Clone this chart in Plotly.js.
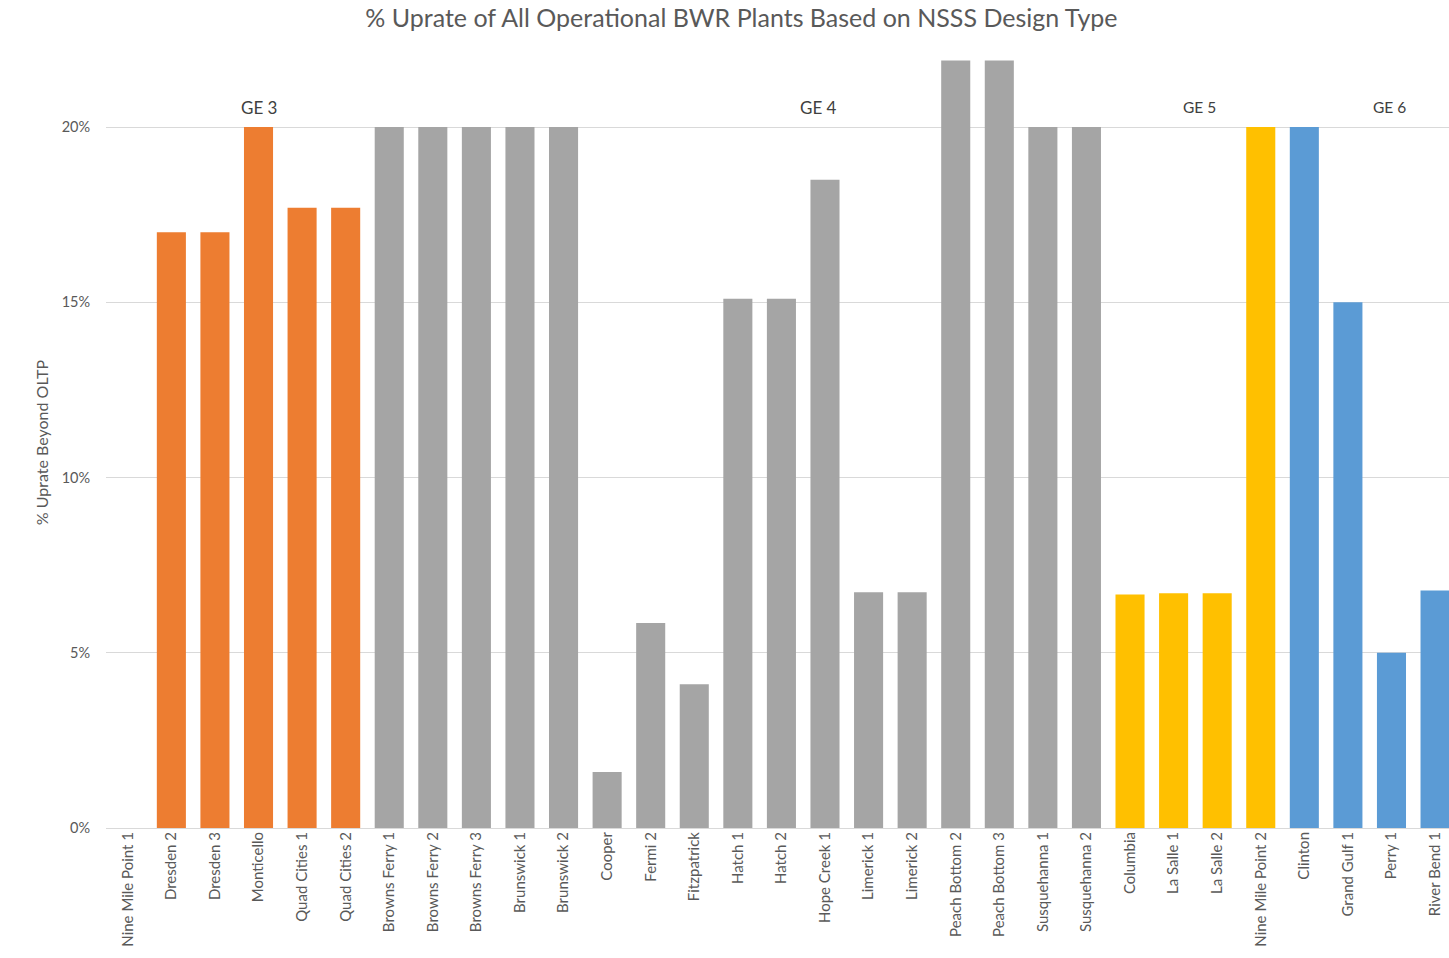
<!DOCTYPE html>
<html>
<head>
<meta charset="utf-8">
<script src="https://cdn.plot.ly/plotly-3.0.1.min.js"></script>
<style>html,body{margin:0;padding:0;background:#fff;}#chart{width:1449px;height:958px;}</style>
</head>
<body>
<div id="chart"></div>
<script>
const plants = ["Nine Mile Point 1","Dresden 2","Dresden 3","Monticello","Quad Cities 1","Quad Cities 2",
  "Browns Ferry 1","Browns Ferry 2","Browns Ferry 3","Brunswick 1","Brunswick 2","Cooper","Fermi 2",
  "Fitzpatrick","Hatch 1","Hatch 2","Hope Creek 1","Limerick 1","Limerick 2","Peach Bottom 2",
  "Peach Bottom 3","Susquehanna 1","Susquehanna 2","Columbia","La Salle 1","La Salle 2",
  "Nine Mile Point 2","Clinton","Grand Gulf 1","Perry 1","River Bend 1"];
const uprate = [0, 0.170, 0.170, 0.200, 0.177, 0.177,
  0.200, 0.200, 0.200, 0.200, 0.200, 0.016, 0.0585,
  0.041, 0.151, 0.151, 0.185, 0.0673, 0.0673, 0.219,
  0.219, 0.200, 0.200, 0.0666, 0.0670, 0.0670,
  0.200, 0.200, 0.150, 0.050, 0.0678];
const designType = ["GE 3","GE 3","GE 3","GE 3","GE 3","GE 3",
  "GE 4","GE 4","GE 4","GE 4","GE 4","GE 4","GE 4",
  "GE 4","GE 4","GE 4","GE 4","GE 4","GE 4","GE 4",
  "GE 4","GE 4","GE 4","GE 5","GE 5","GE 5",
  "GE 5","GE 6","GE 6","GE 6","GE 6"];
const groupLabels = ["GE 3","GE 4","GE 5","GE 6"];
const groupLabelX = [3, 15.84, 24.6, 28.96];
const groupColors = {"GE 3":"#ED7D31","GE 4":"#A5A5A5","GE 5":"#FFC000","GE 6":"#5B9BD5"};

const font = "Lato, 'Open Sans', sans-serif";
const trace = {
  type: "bar",
  x: plants,
  y: uprate,
  marker: {color: designType.map(g => groupColors[g])},
  hoverinfo: "x+y"
};
const annotations = groupLabels.map((g, i) => ({
  x: groupLabelX[i], y: 0.2056, xref: "x", yref: "y",
  text: g, showarrow: false,
  font: {family: font, size: i >= 2 ? 15.5 : 17, color: "#404040"}
}));
const layout = {
  width: 1449, height: 958,
  margin: {l: 106, r: 0, t: 57, b: 130},
  paper_bgcolor: "#fff", plot_bgcolor: "#fff",
  bargap: 0.333,
  showlegend: false,
  title: {text: "% Uprate of All Operational BWR Plants Based on NSSS Design Type",
    font: {family: font, size: 25, color: "#595959"},
    x: 0.5117, xref: "container", xanchor: "center", y: 0.981, yref: "container", yanchor: "middle"},
  xaxis: {
    type: "category",
    range: [-0.5, 30.32],
    tickangle: -90,
    tickfont: {family: font, size: 15, color: "#595959"},
    showgrid: false, zeroline: false,
    showline: false, ticks: "", automargin: false
  },
  yaxis: {
    range: [0, 0.22],
    dtick: 0.05, tick0: 0,
    tickformat: ".0%",
    tickfont: {family: font, size: 14.5, color: "#595959"},
    gridcolor: "#D9D9D9", gridwidth: 1,
    zeroline: true, zerolinecolor: "#D9D9D9", zerolinewidth: 1,
    showline: false,
    ticks: "outside", ticklen: 12, tickcolor: "rgba(0,0,0,0)",
    title: {text: "% Uprate Beyond OLTP", standoff: 9,
      font: {family: font, size: 16, color: "#595959"}},
    automargin: false
  },
  annotations: annotations
};
Plotly.newPlot("chart", [trace], layout, {displayModeBar: false, staticPlot: true});
</script>
</body>
</html>
